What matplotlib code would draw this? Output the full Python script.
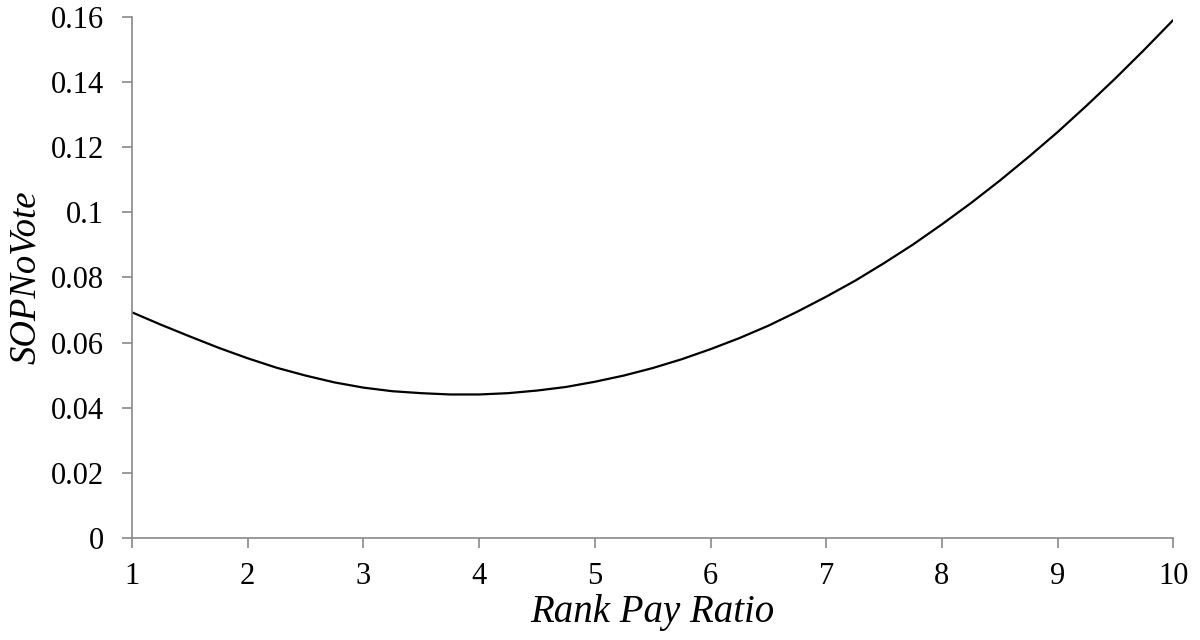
import matplotlib
matplotlib.use("Agg")
import matplotlib.pyplot as plt

rank_pay_ratio = [1.0, 1.25, 1.5, 1.75, 2.0, 2.25, 2.5, 2.75, 3.0, 3.25, 3.5, 3.75,
                  4.0, 4.25, 4.5, 4.75, 5.0, 5.25, 5.5, 5.75, 6.0, 6.25, 6.5, 6.75,
                  7.0, 7.25, 7.5, 7.75, 8.0, 8.25, 8.5, 8.75, 9.0, 9.25, 9.5, 9.75, 10.0]
sop_no_vote = [0.0693, 0.0655, 0.0619, 0.0584, 0.0552, 0.0523, 0.0499, 0.0478,
               0.0462, 0.0451, 0.0445, 0.0441, 0.0441, 0.0445, 0.0453, 0.0464,
               0.0480, 0.0499, 0.0522, 0.0549, 0.0580, 0.0614, 0.0652, 0.0695,
               0.0741, 0.0790, 0.0844, 0.0901, 0.0963, 0.1028, 0.1097, 0.1170,
               0.1246, 0.1327, 0.1411, 0.1499, 0.1590]
x_ticks = [1, 2, 3, 4, 5, 6, 7, 8, 9, 10]
y_ticks = [0, 0.02, 0.04, 0.06, 0.08, 0.1, 0.12, 0.14, 0.16]
y_tick_labels = ["0", "0.02", "0.04", "0.06", "0.08", "0.1", "0.12", "0.14", "0.16"]

plt.rcParams['font.family'] = ['Liberation Serif', 'DejaVu Serif']

fig = plt.figure(figsize=(12, 6.4), dpi=100)
ax = fig.add_axes([0.11, 0.159, 0.8678, 0.815])

ax.plot(rank_pay_ratio, sop_no_vote, color='black', linewidth=1.6, solid_capstyle='butt')

ax.set_xlim(1, 10)
ax.set_ylim(0, 0.16)
ax.set_xticks(x_ticks)
ax.set_xticklabels([str(t) for t in x_ticks])
ax.set_yticks(y_ticks)
ax.set_yticklabels(y_tick_labels)

for s in ['top', 'right']:
    ax.spines[s].set_visible(False)
for s in ['left', 'bottom']:
    ax.spines[s].set_color('#898989')
    ax.spines[s].set_linewidth(1.2)

ax.tick_params(axis='both', direction='out', length=7, width=1.2, color='#898989',
               labelsize=22, labelcolor='black')
ax.tick_params(axis='y', pad=13)
ax.tick_params(axis='x', pad=10)

ax.set_xlabel('Rank Pay Ratio', fontsize=28, fontstyle='italic', labelpad=2)
ax.set_ylabel('SOPNoVote', fontsize=26.5, fontstyle='italic', labelpad=6)

fig.savefig('out.png', dpi=100, facecolor='white')
